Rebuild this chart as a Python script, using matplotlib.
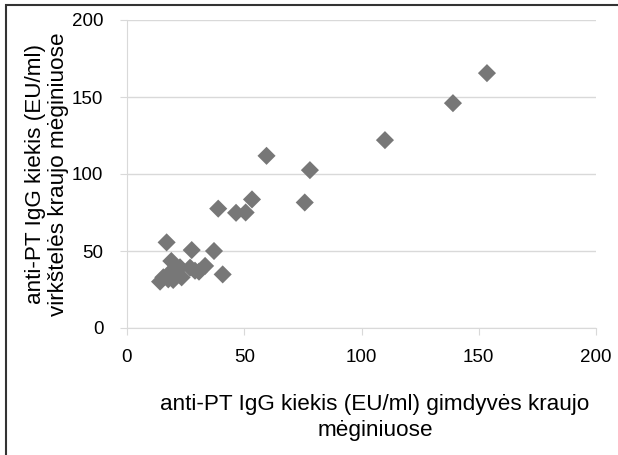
import matplotlib.pyplot as plt
from matplotlib.patches import Rectangle

plt.rcParams['font.family'] = ['Liberation Sans', 'DejaVu Sans']

# ── data (EU/ml) ─────────────────────────────────────────────────────────────
mother = [153.5, 139.0, 110.0, 78.0, 75.8, 59.5, 53.3, 50.6, 46.5, 38.9,
          37.1, 40.8, 27.6, 16.9, 18.9, 22.6, 26.9, 33.3, 30.7, 18.3,
          14.1, 15.5, 19.7, 23.3, 17.6, 29.0, 21.0]
newborn = [165.5, 146.0, 122.0, 102.5, 81.5, 111.8, 83.5, 75.0, 74.8, 77.5,
           50.0, 34.8, 50.6, 55.6, 43.5, 39.4, 39.2, 40.3, 36.6, 35.9,
           30.1, 32.9, 31.2, 32.9, 31.6, 37.2, 34.0]

x_ticks = [0, 50, 100, 150, 200]
y_ticks = [0, 50, 100, 150, 200]

XLABEL = 'anti-PT IgG kiekis (EU/ml) gimdyvės kraujo\nmėginiuose'
YLABEL = 'anti-PT IgG kiekis (EU/ml)\nvirkštelės kraujo mėginiuose'

GRID = '#d9d9d9'

fig = plt.figure(figsize=(6.18, 4.55), dpi=100)
ax = fig.add_axes([127 / 618, 1 - 328 / 455, 469 / 618, 308 / 455])

ax.scatter(mother, newborn, marker='D', s=85, color='#777777',
           edgecolors='none', zorder=3)

ax.set_xlim(0, 200)
ax.set_ylim(0, 200)
ax.set_xticks(x_ticks)
ax.set_yticks(y_ticks)
ax.tick_params(labelsize=13.5, colors=GRID, labelcolor='black', length=5)
ax.tick_params(axis='y', pad=12)
ax.tick_params(axis='x', pad=10)
ax.grid(axis='y', color=GRID, lw=1)
ax.set_axisbelow(True)
for side in ('top', 'right'):
    ax.spines[side].set_visible(False)
for side in ('left', 'bottom'):
    ax.spines[side].set_color(GRID)

ax.set_xlabel(XLABEL, fontsize=16.2, linespacing=1.3)
ax.xaxis.set_label_coords(0.529, -0.215)
ax.set_ylabel(YLABEL, fontsize=16.2, linespacing=1.1)
ax.yaxis.set_label_coords(-0.124, 0.5)

# frame of the cropped figure: only top and left edges visible
fig.patches.append(Rectangle((6 / 618, -0.2), 1.2, 1.2 - 5 / 455,
                             transform=fig.transFigure, fill=False,
                             edgecolor='#333333', lw=1.5))

fig.savefig('out.png', dpi=100)
